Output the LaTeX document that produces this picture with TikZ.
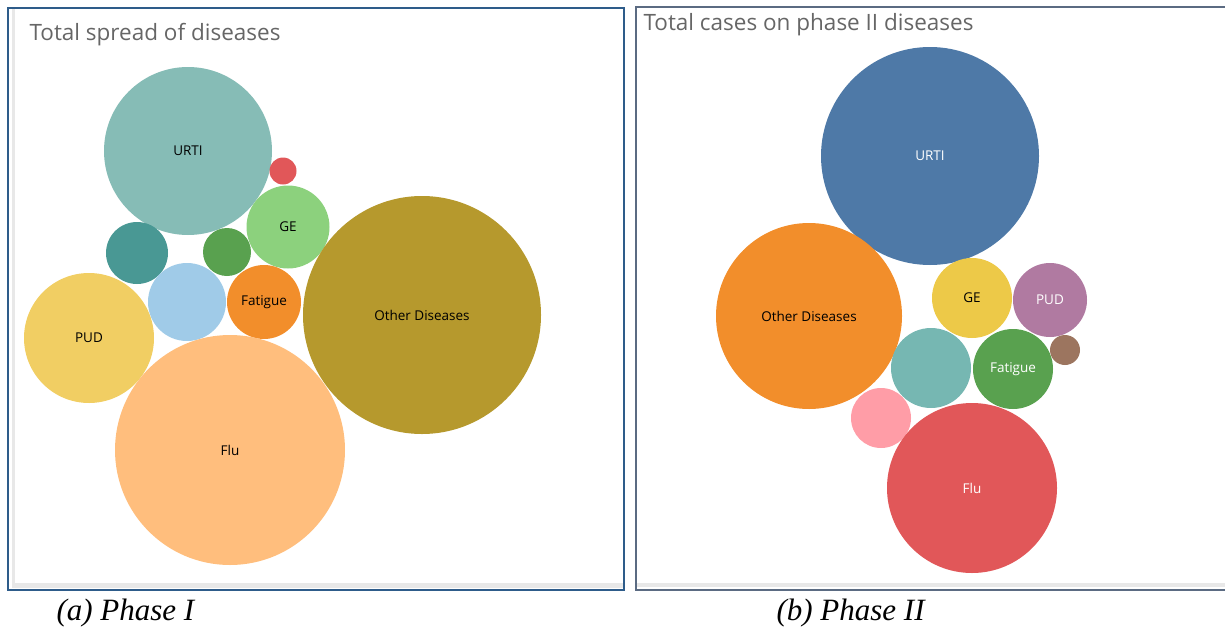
\documentclass[tikz,border=0pt]{standalone}
\usepackage{fontspec}
\setmainfont{Liberation Serif}
\newfontfamily\tabfont{Open Sans}
\definecolor{tbteal}{HTML}{86BCB6}
\definecolor{tbred}{HTML}{E15759}
\definecolor{tblgreen}{HTML}{8CD17D}
\definecolor{tbdteal}{HTML}{499894}
\definecolor{tbgreen}{HTML}{59A14F}
\definecolor{tblblue}{HTML}{A0CBE8}
\definecolor{tborange}{HTML}{F28E2B}
\definecolor{tbyellow}{HTML}{F1CE63}
\definecolor{tbolive}{HTML}{B6992D}
\definecolor{tbpeach}{HTML}{FFBE7D}
\definecolor{tbblue}{HTML}{4E79A7}
\definecolor{tbgold}{HTML}{EDC948}
\definecolor{tbpurple}{HTML}{B07AA1}
\definecolor{tbmteal}{HTML}{76B7B2}
\definecolor{tbbrown}{HTML}{9C755F}
\definecolor{tbpink}{HTML}{FF9DA7}
\definecolor{framea}{HTML}{2E5C8A}
\definecolor{frameb}{HTML}{5B6B82}
\definecolor{titlegray}{HTML}{666666}
\usetikzlibrary{positioning}

\begin{document}
\begin{tikzpicture}[
  x=1pt,y=-1pt,
  bub/.style={circle,inner sep=0pt,minimum size=#1,font=\tabfont\fontsize{13.5}{16}\selectfont},
  ttl/.style={anchor=base west,font=\tabfont\fontsize{22.5}{26}\selectfont,titlegray},
  captext/.style={anchor=base west,font=\itshape\fontsize{31}{34}\selectfont}
]
  \useasboundingbox (0,0) rectangle (1225,629);
  % Frames
  \fill[black!9] (12,9) rectangle (15,588);
  \fill[black!9] (12,583) rectangle (623,588);
  \draw[framea,line width=2pt] (8,8) rectangle (624,590);
  \fill[black!9] (637,583) rectangle (1225,587);
  \draw[frameb,line width=1.6pt] (1225,7) -- (636,7) -- (636,590) -- (1225,590);
  % Phase I
  \node[ttl] (ttla) at (26,40) {Total spread of diseases};
  \node[bub=168pt,fill=tbteal] (urtia) at (188,151) {URTI};
  \node[bub=27pt,fill=tbred] (reda) at (283,171) {};
  \node[bub=83pt,fill=tblgreen] (gea) at (288,227) {GE};
  \node[bub=62pt,fill=tbdteal] (tealb) at (137,253) {};
  \node[bub=48pt,fill=tbgreen] (greena) at (227,252) {};
  \node[bub=78pt,fill=tblblue] (bluea) at (187,302) {};
  \node[bub=74pt,fill=tborange] (fatiguea) at (264,302) {Fatigue};
  \node[bub=130pt,fill=tbyellow] (puda) at (89,338) {PUD};
  \node[bub=238pt,fill=tbolive] (othera) at (422,315) {Other Diseases};
  \node[bub=230pt,fill=tbpeach] (flua) at (230,450) {Flu};
  % Phase II
  \node[ttl] (ttlb) at (640,30) {Total cases on phase II diseases};
  \begin{scope}[every node/.append style={text=white}]
    \node[bub=218pt,fill=tbblue] (urtib) at (930,156) {URTI};
    \node[bub=186pt,fill=tborange,text=black] (otherb) at (809,316) {Other Diseases};
    \node[bub=80pt,fill=tbgold,text=black] (geb) at (972,298) {GE};
    \node[bub=74pt,fill=tbpurple] (pudb) at (1050,300) {PUD};
    \node[bub=80pt,fill=tbmteal] (tealb) at (931,368) {};
    \node[bub=80pt,fill=tbgreen] (fatigueb) at (1013,369) {Fatigue};
    \node[bub=30pt,fill=tbbrown] (brownb) at (1065,350) {};
    \node[bub=60pt,fill=tbpink] (pinkb) at (881,418) {};
    \node[bub=170pt,fill=tbred] (flub) at (972,488) {Flu};
  \end{scope}
  % Captions
  \node[captext] (capa) at (53,620) {(a) Phase I};
  \node[captext] (capb) at (773,620) {(b) Phase II};
\end{tikzpicture}
\end{document}
